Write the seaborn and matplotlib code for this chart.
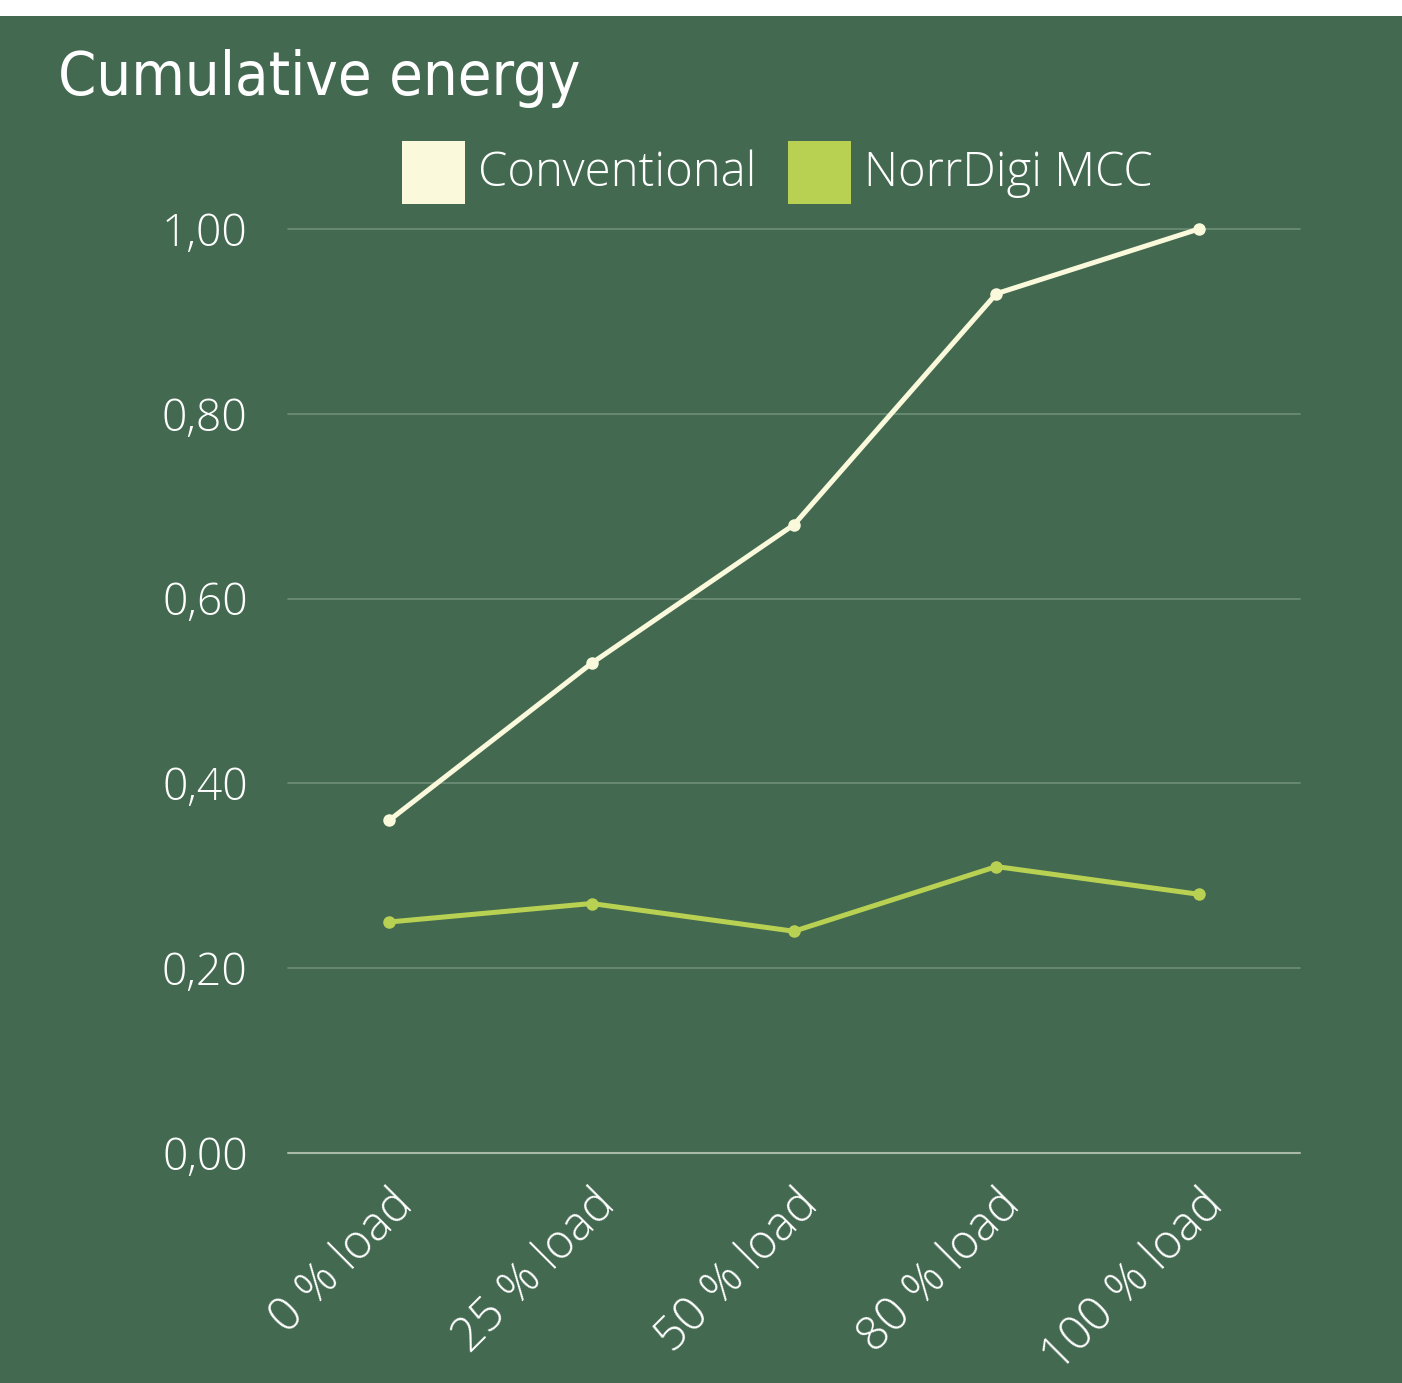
import pandas as pd
import matplotlib.pyplot as plt
from matplotlib.patches import Rectangle
import seaborn as sns

# Chart data
loads = ['0 % load', '25 % load', '50 % load', '80 % load', '100 % load']
conventional = [0.36, 0.53, 0.68, 0.93, 1.00]
norrdigi = [0.25, 0.27, 0.24, 0.31, 0.28]
y_ticks = [0.0, 0.2, 0.4, 0.6, 0.8, 1.0]
y_tick_labels = ['0,00', '0,20', '0,40', '0,60', '0,80', '1,00']

bg = '#436a50'
c_conv = '#faf9dc'
c_norr = '#b9d152'

df = pd.DataFrame({
    'load': loads * 2,
    'value': conventional + norrdigi,
    'series': ['Conventional'] * len(loads) + ['NorrDigi MCC'] * len(loads),
})

sns.set_style('white')
plt.rcParams['font.family'] = ['Open Sans', 'DejaVu Sans']
plt.rcParams['font.weight'] = 300

W, H = 1402, 1383
fig = plt.figure(figsize=(W / 100, H / 100), dpi=100, facecolor='white')
fig.patches.append(Rectangle((0, 0), 1, 1 - 16 / H, transform=fig.transFigure,
                             facecolor=bg, edgecolor='none', zorder=-10))

ax = fig.add_axes([288 / W, (H - 1153) / H, (1300 - 288) / W, (1153 - 229) / H])
ax.set_facecolor(bg)

sns.lineplot(data=df, x='load', y='value', hue='series',
             palette={'Conventional': c_conv, 'NorrDigi MCC': c_norr},
             linewidth=3.6, marker='o', markersize=9, markeredgewidth=0,
             legend=False, ax=ax, zorder=3)
for line in ax.lines:
    line.set_clip_on(False)

ax.set_xlim(-0.5, len(loads) - 0.5)
ax.set_ylim(0, 1)
ax.set_yticks(y_ticks)
ax.set_yticklabels(y_tick_labels, fontsize=32, color='white', fontweight=300)
for y in y_ticks[1:]:
    ax.axhline(y, color='#6f8f77', linewidth=1.2, zorder=1, clip_on=False)
ax.axhline(0, color='#a9b9aa', linewidth=1.5, zorder=1, clip_on=False)

ax.set_xticks(range(len(loads)))
ax.set_xticklabels(loads, fontsize=34, color='white', fontweight=300,
                   rotation=45, ha='right', rotation_mode='anchor')

ax.tick_params(axis='x', length=0, pad=20)
ax.tick_params(axis='y', length=0, pad=29)
ax.set_xlabel('')
ax.set_ylabel('')
for s in ax.spines.values():
    s.set_visible(False)

# Title
fig.text(58 / W, 1 - 95 / H, 'Cumulative energy', fontsize=44, color='white',
         family=['DejaVu Sans'], fontstretch='condensed', fontweight='normal',
         ha='left', va='baseline')

# Legend
for x0, name, col in [(402, 'Conventional', c_conv), (788, 'NorrDigi MCC', c_norr)]:
    fig.patches.append(Rectangle((x0 / W, 1 - 204 / H), 63 / W, 63 / H,
                                 transform=fig.transFigure, facecolor=col,
                                 edgecolor='none'))
    fig.text((x0 + 76) / W, 1 - 186 / H, name, fontsize=34, color='white',
             fontweight=300, ha='left', va='baseline')

fig.savefig('out.png', dpi=100, facecolor=fig.get_facecolor())
